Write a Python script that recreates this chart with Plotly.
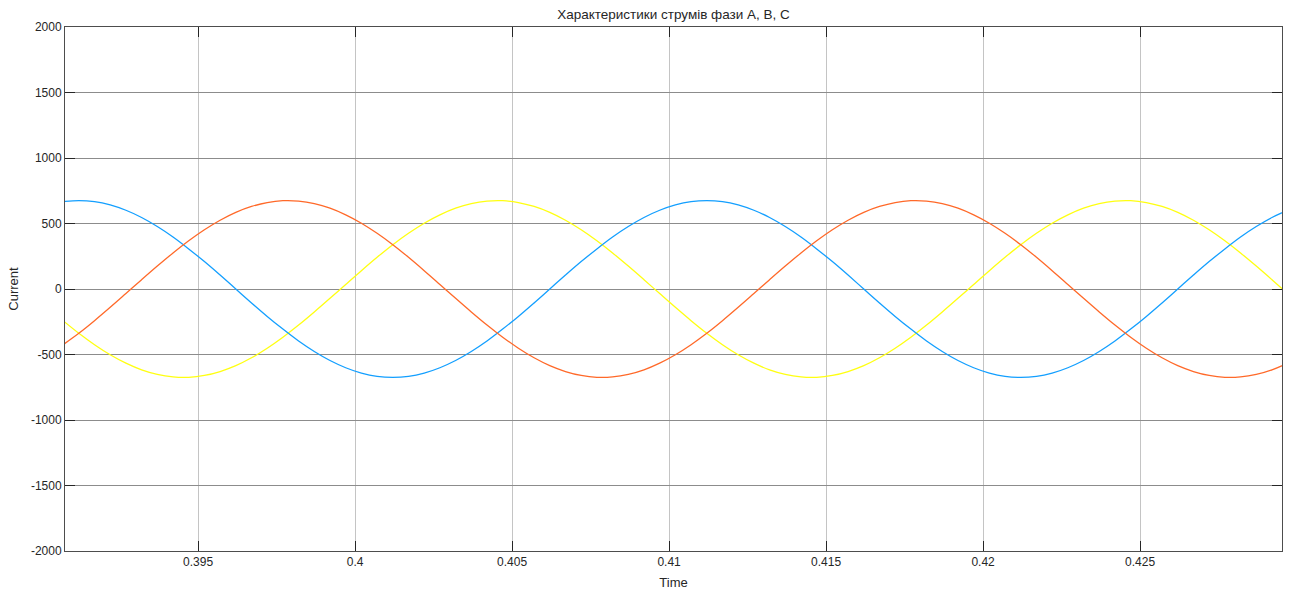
import plotly.graph_objects as go

# Time samples (s)
t_start = 0.3907
t_step = 0.0005
n = 79
time = [round(t_start + t_step * k, 4) for k in range(n)]

# Phase currents (A)
phase_a = [  # yellow
    -242, -338, -425, -502, -566, -617, -652, -671, -674, -660,
    -630, -585, -525, -452, -368, -275, -175, -71, 35, 140,
    242, 338, 425, 502, 566, 617, 652, 671, 674, 660,
    630, 585, 525, 452, 368, 275, 175, 71, -35, -140,
    -242, -338, -425, -502, -566, -617, -652, -671, -674, -660,
    -630, -585, -525, -452, -368, -275, -175, -71, 35, 140,
    242, 338, 425, 502, 566, 617, 652, 671, 674, 660,
    630, 585, 525, 452, 368, 275, 175, 71, -35,
]
phase_b = [  # blue
    667, 675, 667, 642, 601, 546, 477, 397, 306, 209, 106,
    0, -106, -209, -306, -397, -477, -546, -601, -642, -667,
    -675, -667, -642, -601, -546, -477, -397, -306, -209, -106,
    0, 106, 209, 306, 397, 477, 546, 601, 642, 667,
    675, 667, 642, 601, 546, 477, 397, 306, 209, 106,
    0, -106, -209, -306, -397, -477, -546, -601, -642, -667,
    -675, -667, -642, -601, -546, -477, -397, -306, -209, -106,
    0, 106, 209, 306, 397, 477, 546, 601,
]
phase_c = [  # red
    -425, -338, -242, -140, -35, 71, 175, 275, 368, 452,
    525, 585, 630, 660, 674, 671, 652, 617, 566, 502,
    425, 338, 242, 140, 35, -71, -175, -275, -368, -452,
    -525, -585, -630, -660, -674, -671, -652, -617, -566, -502,
    -425, -338, -242, -140, -35, 71, 175, 275, 368, 452,
    525, 585, 630, 660, 674, 671, 652, 617, 566, 502,
    425, 338, 242, 140, 35, -71, -175, -275, -368, -452,
    -525, -585, -630, -660, -674, -671, -652, -617, -566,
]

x_range = [0.39076, 0.42952]
y_range = [-2000, 2000]
y_ticks = [-2000, -1500, -1000, -500, 0, 500, 1000, 1500, 2000]
y_tick_text = ["-2000", "-1500", "-1000", "-500", "0", "500", "1000", "1500", "2000"]
x_ticks = [0.395, 0.4, 0.405, 0.41, 0.415, 0.42, 0.425]
x_tick_text = ["0.395", "0.4", "0.405", "0.41", "0.415", "0.42", "0.425"]

fig = go.Figure()
series = [
    ("Фаза A", phase_a, "#FFFF11"),
    ("Фаза B", phase_b, "#139FFF"),
    ("Фаза C", phase_c, "#FF6929"),
]
for name, vals, col in series:
    fig.add_trace(go.Scatter(
        x=time, y=vals, mode="lines", name=name,
        line=dict(color=col, width=1.3, shape="spline"),
    ))

font = dict(family="Liberation Sans, Arial, sans-serif", size=12, color="#262626")

fig.update_layout(
    width=1289, height=590,
    margin=dict(l=65, r=7, t=27, b=39),
    paper_bgcolor="white", plot_bgcolor="white",
    showlegend=False,
    font=font,
    title=dict(text="Характеристики струмів фази A, B, C", x=0.5225, xanchor="center",
               y=0.975, yanchor="middle", font=dict(size=13.5, color="#262626")),
)
fig.update_xaxes(
    range=x_range, tickvals=x_ticks, ticktext=x_tick_text,
    automargin=False,
    showgrid=True, gridcolor="#c4c4c4", gridwidth=1,
    zeroline=False,
    showline=True, linecolor="#4d4d4d", linewidth=1, mirror="allticks",
    ticks="inside", ticklen=10, tickcolor="#262626", tickwidth=1,
    title=dict(text="Time", standoff=9, font=dict(size=13)),
    tickfont=dict(size=12),
)
fig.update_yaxes(
    range=y_range, tickvals=y_ticks, ticktext=y_tick_text,
    automargin=False,
    showgrid=True, gridcolor="#8c8c8c", gridwidth=1,
    zeroline=False,
    showline=True, linecolor="#4d4d4d", linewidth=1, mirror="allticks",
    ticks="inside", ticklen=10, tickcolor="#262626", tickwidth=1,
    title=dict(text="Current", standoff=9, font=dict(size=13)),
    tickfont=dict(size=12),
)

fig.write_html("out.html")
